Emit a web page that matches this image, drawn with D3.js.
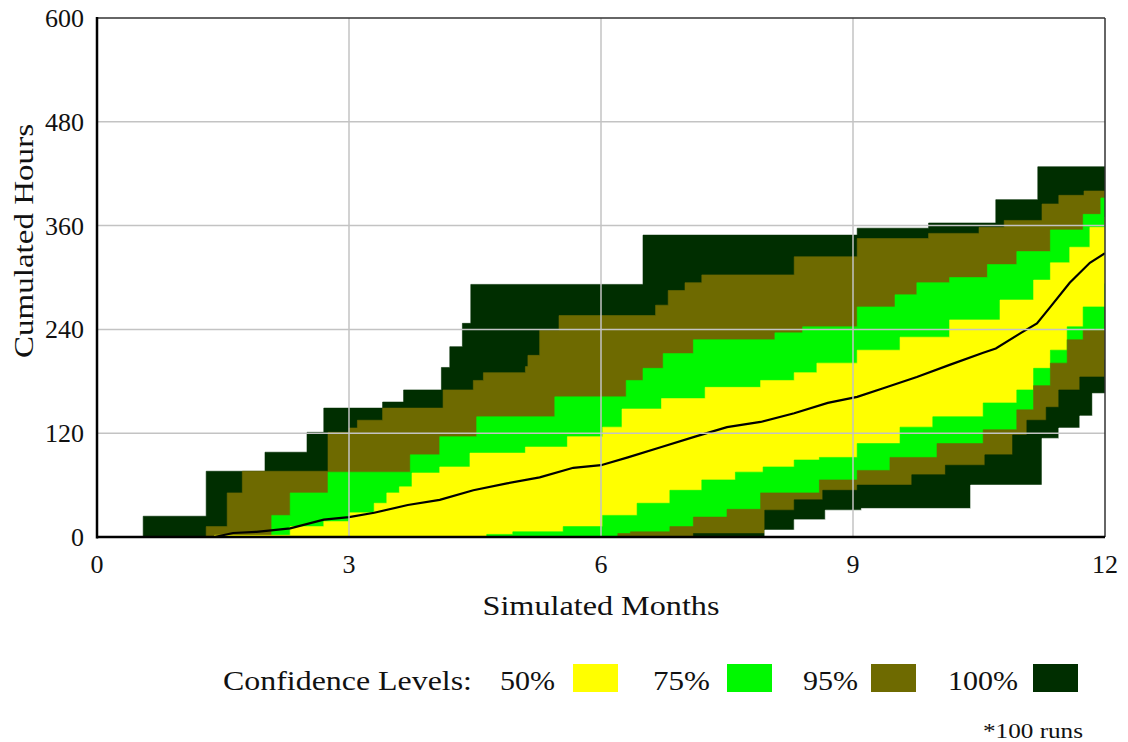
<!DOCTYPE html>
<html><head><meta charset="utf-8">
<script src="https://cdn.jsdelivr.net/npm/d3@7"></script>
<style>body{margin:0;background:#fff}svg{display:block}text{font-family:"Liberation Serif","DejaVu Serif","Times New Roman",serif}</style>
</head><body><svg id="c" width="1128" height="742"></svg>
<script>
// ---- data (month, cumulated hours) ----
const xTicks = [0, 3, 6, 9, 12];
const yTicks = [0, 120, 240, 360, 480, 600];
const legendLabels = ["50%", "75%", "95%", "100%"];

const upper100 = [[0,0],[0.55,24],[1.3,76],[2.0,98],[2.5,121],[2.7,149],[3.4,156],[3.65,170],[4.1,196],[4.2,220],[4.35,247],[4.45,292],[6.5,349],[9.05,357],[9.9,363],[10.7,390],[11.2,428],[12,428]];
const upper95 = [[0,0],[1.3,12],[1.55,51],[1.73,76],[2.75,121],[3.0,126],[3.1,135],[3.4,149],[4.12,170],[4.48,181],[4.6,190],[5.1,197],[5.13,210],[5.27,239],[5.5,256],[6.65,268],[6.8,285],[7.0,294],[7.2,303],[8.3,324],[9.05,345],[9.9,351],[10.5,358],[10.8,366],[11.25,385],[11.45,395],[11.75,400],[12,400]];
const upper75 = [[0,0],[2.08,25],[2.3,51],[2.75,75],[3.73,95],[4.08,116],[4.52,139],[5.45,162],[6.3,181],[6.5,195],[6.74,212],[7.1,228],[8.07,236],[8.4,243],[9.05,266],[9.5,280],[9.76,294],[10.15,300],[10.6,315],[10.95,330],[11.35,355],[11.74,373],[11.95,392],[12,392]];
const upper50 = [[0,0],[1.4,2],[2.3,12],[2.7,18],[3.0,28],[3.3,39],[3.45,51],[3.6,58],[3.75,74],[4.08,81],[4.44,97],[5.1,104],[5.6,116],[6.02,127],[6.25,148],[6.72,160],[7.24,173],[7.9,181],[8.3,190],[8.57,201],[9.05,216],[9.56,231],[10.15,251],[10.75,274],[11.15,297],[11.35,317],[11.58,335],[11.82,358],[12,370]];
const median = [[0,0],[1.4,0],[1.62,4.6],[1.9,6],[2.3,10],[2.7,20],[3.0,23],[3.3,28],[3.7,37],[4.08,43],[4.48,54],[4.88,62],[5.27,69],[5.67,80],[6.0,83],[6.32,92],[6.72,104],[7.12,116],[7.5,127],[7.9,133],[8.3,143],[8.7,155],[9.05,162],[9.36,172],[9.76,185],[10.15,199],[10.55,213],[10.7,218],[11.0,236],[11.19,247],[11.35,266],[11.58,294],[11.82,317],[12,328]];
const lower50 = [[0,0],[4.64,3],[4.95,6],[5.55,12],[6.02,25],[6.43,39],[6.82,54],[7.2,66],[7.6,75],[7.93,81],[8.3,89],[8.6,92],[9.05,108],[9.56,127],[9.95,139],[10.55,155],[10.95,170],[11.15,195],[11.35,216],[11.55,243],[11.74,266],[12,293]];
const lower75 = [[0,0],[6.2,4],[6.35,6],[6.82,12],[7.1,23],[7.5,32],[7.9,51],[8.6,66],[9.05,77],[9.44,92],[10.0,108],[10.55,124],[10.95,147],[11.15,175],[11.35,201],[11.55,228],[11.74,239],[12,266]];
const lower95 = [[0,0],[7.1,4],[7.95,31],[8.3,43],[8.64,54],[9.05,60],[9.7,72],[10.1,83],[10.57,95],[10.9,118],[11.07,135],[11.3,150],[11.45,170],[11.7,185],[12,205]];
const lower100 = [[0,0],[7.95,8],[8.3,20],[8.67,31],[9.1,33],[10.4,60],[11.25,114],[11.45,126],[11.7,140],[11.85,166],[12,166]];

// ---- styles ----
const C50 = "#ffff00", C75 = "#00f800", C95 = "#6e6a00", C100 = "#002e00";
const legendColors = [C50, C75, C95, C100];

const svg = d3.select("#c");
const x = d3.scaleLinear().domain([0, 12]).range([97, 1105]);
const y = d3.scaleLinear().domain([0, 600]).range([537, 18]);

svg.append("defs").append("clipPath").attr("id", "plot")
  .append("rect").attr("x", x(0)).attr("y", y(600)).attr("width", x(12) - x(0)).attr("height", y(0) - y(600));

const area = d3.area().curve(d3.curveStepAfter)
  .x(d => x(d[0])).y0(y(0)).y1(d => y(d[1]));

const g = svg.append("g").attr("clip-path", "url(#plot)");
const layers = [
  [upper100, C100], [upper95, C95], [upper75, C75], [upper50, C50],
  [lower50, C75], [lower75, C95], [lower95, C100], [lower100, "#ffffff"]
];
layers.forEach(([data, col]) => {
  g.append("path").datum(data).attr("d", area).attr("fill", col).attr("stroke", col).attr("stroke-width", 0.6);
});

// grid
const grid = svg.append("g").attr("stroke", "#c3c3c3").attr("stroke-width", 1.5);
yTicks.filter(v => v > 0 && v < 600).forEach(v => {
  grid.append("line").attr("x1", x(0)).attr("x2", x(12)).attr("y1", y(v)).attr("y2", y(v));
});
xTicks.filter(v => v > 0 && v < 12).forEach(v => {
  grid.append("line").attr("x1", x(v)).attr("x2", x(v)).attr("y1", y(0)).attr("y2", y(600));
});

// median line
g.append("path").datum(median)
  .attr("d", d3.line().x(d => x(d[0])).y(d => y(d[1])))
  .attr("fill", "none").attr("stroke", "#000").attr("stroke-width", 2.2);

// frame
svg.append("line").attr("x1", x(0)).attr("x2", x(12)).attr("y1", y(600)).attr("y2", y(600)).attr("stroke", "#333").attr("stroke-width", 1.5);
svg.append("line").attr("x1", x(12)).attr("x2", x(12)).attr("y1", y(600)).attr("y2", y(0)).attr("stroke", "#333").attr("stroke-width", 1.5);
svg.append("line").attr("x1", x(0)).attr("x2", x(0)).attr("y1", y(600) - 1).attr("y2", y(0) + 1.5).attr("stroke", "#000").attr("stroke-width", 2.5);
svg.append("line").attr("x1", x(0)).attr("x2", x(12)).attr("y1", y(0)).attr("y2", y(0)).attr("stroke", "#000").attr("stroke-width", 2.5);

// tick labels
svg.append("g").selectAll("text").data(yTicks).join("text")
  .attr("x", 84).attr("y", d => y(d) + 9)
  .attr("text-anchor", "end").attr("font-size", 26).attr("fill", "#111")
  .text(d => d);
svg.append("g").selectAll("text").data(xTicks).join("text")
  .attr("x", d => x(d)).attr("y", 573)
  .attr("text-anchor", "middle").attr("font-size", 26).attr("fill", "#111")
  .text(d => d);

// axis titles
svg.append("text").attr("x", 601).attr("y", 615).attr("text-anchor", "middle")
  .attr("font-size", 27).attr("fill", "#111")
  .attr("textLength", 237).attr("lengthAdjust", "spacingAndGlyphs").text("Simulated Months");
svg.append("text").attr("transform", "translate(33,241) rotate(-90)").attr("text-anchor", "middle")
  .attr("font-size", 27).attr("fill", "#111")
  .attr("textLength", 234).attr("lengthAdjust", "spacingAndGlyphs").text("Cumulated Hours");

// legend
const lg = svg.append("g").attr("font-size", 27).attr("fill", "#111");
lg.append("text").attr("x", 223).attr("y", 690).attr("textLength", 249).attr("lengthAdjust", "spacingAndGlyphs").text("Confidence Levels:");
const labelX = [500, 653, 803, 948];
const labelW = [55, 57, 55, 70];
const swX = [573, 727, 871, 1033];
legendLabels.forEach((t, i) => {
  lg.append("text").attr("x", labelX[i]).attr("y", 690).attr("textLength", labelW[i]).attr("lengthAdjust", "spacingAndGlyphs").text(t);
  lg.append("rect").attr("x", swX[i]).attr("y", 664).attr("width", 45).attr("height", 28).attr("fill", legendColors[i]);
});
svg.append("text").attr("x", 983).attr("y", 738).attr("font-size", 20).attr("fill", "#111")
  .attr("textLength", 100).attr("lengthAdjust", "spacingAndGlyphs").text("*100 runs");
</script>
</body></html>
